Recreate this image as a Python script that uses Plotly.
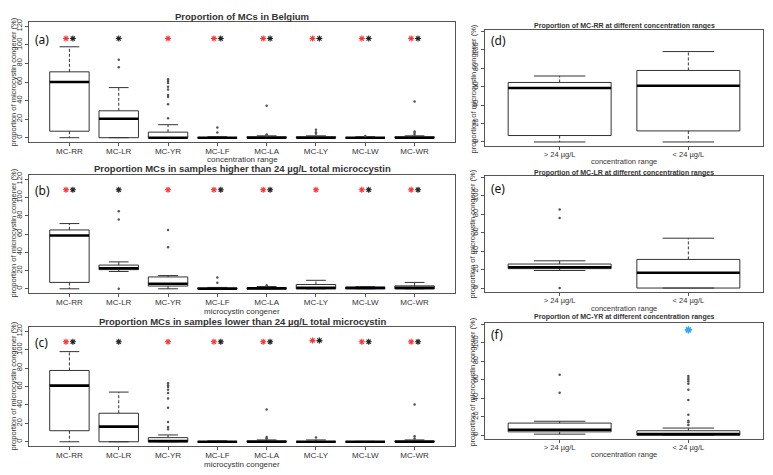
import plotly.graph_objects as go

# ---------------- data ----------------
congeners = ["MC-RR", "MC-LR", "MC-YR", "MC-LF", "MC-LA", "MC-LY", "MC-LW", "MC-WR"]
conc_ranges = ["> 24 µg/L", "< 24 µg/L"]
y_ticks = [0, 20, 40, 60, 80, 100, 120]

# (a) all Belgian samples
a_lo = [0, 0, 0, 0, 0, 0, 0, 0]
a_q1 = [7, 0, 0, 0, 0, 0, 0, 0]
a_med = [60, 20.5, 0, 0, 0, 0, 0, 0]
a_q3 = [71, 29, 6, 0.6, 1, 1, 0.5, 1]
a_hi = [98, 54, 14, 1, 2, 2, 1, 2]
a_out = [[], [76, 84], [63, 61, 59, 55, 52, 46, 44, 36, 21], [11, 5.5],
         [34.5, 3.5, 2.5], [8.5, 6, 4.3], [1.8], [39, 6.7, 5, 3.2]]
a_stars = ["rb", "b", "r", "rb", "rb", "rb", "rb", "rb"]
a_star_y = [107, 107, 107, 107, 107, 107, 107, 107]

# (b) samples > 24 µg/L
b_lo = [0, 19, 0, 0, 0, 0, 0, 0]
b_q1 = [7, 21, 3, 0, 0, 0, 0, 0]
b_med = [58.5, 22.5, 5.5, 0, 0.5, 1, 1, 1]
b_q3 = [64.5, 26, 13, 1, 1, 4.7, 1.5, 3.2]
b_hi = [71.5, 29.5, 14.5, 1.5, 2.5, 9.3, 2.2, 7]
b_out = [[], [85, 76, 0], [64.5, 45.5], [12.5, 6.5], [4], [], [], []]
b_stars = ["rb", "b", "r", "rb", "rb", "r", "rb", "rb"]
b_star_y = [108.5, 108.5, 108.5, 108.5, 108.5, 108.5, 108.5, 108.5]

# (c) samples < 24 µg/L
c_lo = [0, 0, 0, 0, 0, 0, 0, 0]
c_q1 = [12, 0, 0, 0, 0, 0, 0, 0]
c_med = [61, 16.5, 0.7, 0, 0, 0, 0, 0]
c_q3 = [77.5, 31, 4.5, 0.5, 1, 0.8, 0.3, 1]
c_hi = [98, 54, 7.4, 1, 2, 2, 0.5, 2]
c_out = [[], [], [63.5, 61.5, 59.5, 56.5, 53, 47, 37, 21.5, 16, 13.5], [],
         [35, 5.3, 3.9, 3.2], [4.6], [], [40.5, 6, 3.5]]
c_stars = ["rb", "b", "r", "rb", "rb", "rb", "rb", "rb"]
c_star_y = [108.7, 108.7, 108.7, 108.7, 108.7, 110, 108.7, 108.7]

# (d) MC-RR, (e) MC-LR, (f) MC-YR : > 24 vs < 24 µg/L
d_lo = [0, 0]; d_q1 = [7, 12]; d_med = [58.5, 61]; d_q3 = [64.5, 77.5]; d_hi = [71.5, 98]
d_out = [[], []]
e_lo = [19, 0]; e_q1 = [21, 0]; e_med = [22.5, 16.5]; e_q3 = [26, 31]; e_hi = [29.5, 54]
e_out = [[85, 76, 0], []]
f_lo = [1, 0]; f_q1 = [3.5, 0]; f_med = [5.8, 1]; f_q3 = [13, 4.7]; f_hi = [15, 7.6]
f_out = [[65.5, 46], [64, 62, 60, 58, 55.5, 49, 38, 22, 15.5, 13.8, 11]]
f_blue_star = [114]

# ---------------- figure ----------------
PAGE_W, PAGE_H = 773, 475
OFF = 8                      # default page margin around the plot div
W, H = PAGE_W - OFF, PAGE_H - OFF
FONT = "Liberation Sans, Arial, sans-serif"
GRAY = "#555555"
TXT = "#333333"

fig = go.Figure()


def px_x(p):
    return (p - OFF) / W


def px_y(p):
    return 1 - (p - OFF) / H


def add_boxes(n, pos, lo, q1, med, q3, hi, outs, w=0.8):
    xa, ya = "x%d" % n, "y%d" % n
    rx, ry, mx, my, wx, wy, sx, sy, ox, oy = [], [], [], [], [], [], [], [], [], []
    for p, l, a, m, b, h, o in zip(pos, lo, q1, med, q3, hi, outs):
        rx += [p - w / 2, p + w / 2, p + w / 2, p - w / 2, p - w / 2, None]
        ry += [a, a, b, b, a, None]
        mx += [p - w / 2, p + w / 2, None]
        my += [m, m, None]
        wx += [p, p, None, p, p, None]
        wy += [b, h, None, a, l, None]
        sx += [p - w / 4, p + w / 4, None, p - w / 4, p + w / 4, None]
        sy += [h, h, None, l, l, None]
        ox += [p] * len(o)
        oy += list(o)
    common = dict(xaxis=xa, yaxis=ya, showlegend=False, hoverinfo="skip")
    fig.add_trace(go.Scatter(x=wx, y=wy, mode="lines",
                             line=dict(color="#333333", width=1, dash="3px,2px"), **common))
    fig.add_trace(go.Scatter(x=sx, y=sy, mode="lines",
                             line=dict(color="#333333", width=1), **common))
    fig.add_trace(go.Scatter(x=rx, y=ry, mode="lines",
                             line=dict(color="#333333", width=1), **common))
    fig.add_trace(go.Scatter(x=mx, y=my, mode="lines",
                             line=dict(color="#000000", width=2.6), **common))
    fig.add_trace(go.Scatter(x=ox, y=oy, mode="markers",
                             marker=dict(color="#555555", size=2.5), **common))


def add_stars(n, pos, stars, sy):
    xa, ya = "x%d" % n, "y%d" % n
    for col, key in (("#ff3333", "r"), ("#222222", "b")):
        xs, ys = [], []
        for p, s, yv in zip(pos, stars, sy):
            if key in s:
                off = 0 if len(s) == 1 else (-0.07 if key == "r" else 0.07)
                xs.append(p + off)
                ys.append(yv)
        fig.add_trace(go.Scatter(x=xs, y=ys, mode="markers", xaxis=xa, yaxis=ya,
                                 marker=dict(symbol="asterisk-open", size=5, color=col,
                                             line=dict(color=col, width=1.1)),
                                 showlegend=False, hoverinfo="skip"))


left_pos = list(range(1, len(congeners) + 1))
right_pos = list(range(1, len(conc_ranges) + 1))

panels = [
    (1, (29, 455, 19, 140), True),
    (2, (29, 455, 173, 292), True),
    (3, (29, 455, 326, 446), True),
    (4, (485, 763, 27, 144), False),
    (5, (485, 763, 174, 291), False),
    (6, (485, 763, 322, 439), False),
]

add_boxes(1, left_pos, a_lo, a_q1, a_med, a_q3, a_hi, a_out)
add_stars(1, left_pos, a_stars, a_star_y)
add_boxes(2, left_pos, b_lo, b_q1, b_med, b_q3, b_hi, b_out)
add_stars(2, left_pos, b_stars, b_star_y)
add_boxes(3, left_pos, c_lo, c_q1, c_med, c_q3, c_hi, c_out)
add_stars(3, left_pos, c_stars, c_star_y)
add_boxes(4, right_pos, d_lo, d_q1, d_med, d_q3, d_hi, d_out)
add_boxes(5, right_pos, e_lo, e_q1, e_med, e_q3, e_hi, e_out)
add_boxes(6, right_pos, f_lo, f_q1, f_med, f_q3, f_hi, f_out)
fig.add_trace(go.Scatter(x=[right_pos[1]] * len(f_blue_star), y=f_blue_star, mode="markers",
                         xaxis="x6", yaxis="y6",
                         marker=dict(symbol="asterisk-open", size=6, color="#33aaee",
                                     line=dict(color="#33aaee", width=1.6)),
                         showlegend=False, hoverinfo="skip"))

layout = {}
for n, (x0, x1, y0, y1), left in panels:
    key = "" if n == 1 else str(n)
    if left:
        xr = [0.18, len(congeners) + 0.82]
        yr = [-4.8, 124.8]
        tv, tt = left_pos, congeners
        ytt = [str(v) for v in y_ticks]
        xfont = dict(family=FONT, size=8, color=TXT)
    else:
        xr = [0.42, len(conc_ranges) + 0.58]
        yr = [-4.5, 121.5]
        tv, tt = right_pos, conc_ranges
        ytt = [str(v) if v < 120 else "" for v in y_ticks]
        xfont = dict(family=FONT, size=7.5, color=TXT)
    layout["xaxis" + key] = dict(
        domain=[px_x(x0), px_x(x1)], range=xr, anchor="y" + key,
        tickvals=tv, ticktext=tt, ticks="outside", ticklen=3, tickcolor=GRAY,
        ticklabelstandoff=-2,
        showline=True, linecolor=GRAY, linewidth=1, mirror=True,
        showgrid=False, zeroline=False, tickfont=xfont, fixedrange=True)
    layout["yaxis" + key] = dict(
        domain=[px_y(y1), px_y(y0)], range=yr, anchor="x" + key,
        tickvals=y_ticks, ticktext=ytt, tickangle=-90, ticks="outside", ticklen=3,
        tickcolor=GRAY, showline=True, linecolor=GRAY, linewidth=1, mirror=True,
        showgrid=False, zeroline=False,
        tickfont=dict(family=FONT, size=7.5, color=TXT), fixedrange=True)

ann = []


def text(x, y, s, size=8, family=FONT, bold=False, angle=0, xanchor="center", color=TXT):
    ann.append(dict(x=px_x(x), y=px_y(y), xref="paper", yref="paper",
                    text=("<b>%s</b>" % s) if bold else s,
                    showarrow=False, font=dict(family=family, size=size, color=color),
                    xanchor=xanchor, yanchor="middle", textangle=angle))


# titles
text(242, 14, "Proportion of MCs in Belgium", size=9.5, bold=True)
text(242, 167, "Proportion MCs in samples higher than 24 µg/L total microccystin", size=9.5, bold=True)
text(242, 321, "Proportion MCs in samples lower than 24 µg/L total microcystin", size=9.5, bold=True)
text(624, 23, "Proportion of MC-RR at different concentration ranges", size=7, bold=True)
text(624, 171, "Proportion of MC-LR at different concentration ranges", size=7, bold=True)
text(624, 316, "Proportion of MC-YR at different concentration ranges", size=7, bold=True)
# panel letters
for lab, x, y in (("(a)", 33, 37), ("(b)", 33, 189), ("(c)", 33, 342),
                  ("(d)", 489, 38), ("(e)", 489, 187), ("(f)", 489, 334)):
    text(x, y, lab, size=12, family="Noto Sans, Liberation Sans, sans-serif",
         xanchor="left", color="#111111")
# x-axis titles
text(242, 157, "concentration range", size=8)
text(242, 310, "microcystin congener", size=8)
text(242, 464, "microcystin congener", size=8)
text(624, 159, "concentration range", size=7.5)
text(624, 307, "concentration range", size=7.5)
text(624, 454, "concentration range", size=7.5)
# y-axis titles
ylab = "proportion of microcystin congener (%)"
for yc in (80, 232, 386):
    text(14, yc, ylab, size=7.5, angle=-90)
for yc in (86, 232, 381):
    text(473, yc, ylab, size=7.5, angle=-90)

layout.update(dict(width=W, height=H, margin=dict(l=0, r=0, t=0, b=0),
                   paper_bgcolor="white", plot_bgcolor="white", annotations=ann,
                   showlegend=False))
fig.update_layout(**layout)
fig.write_html("out.html")
